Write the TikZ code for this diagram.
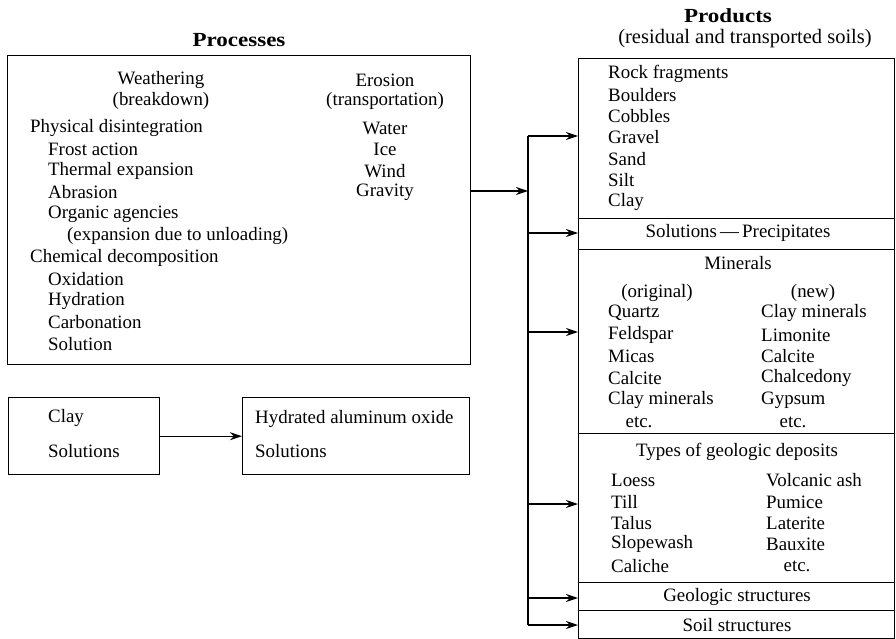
\documentclass[tikz,border=0pt]{standalone}
\usepackage{fontspec}
\setmainfont{Liberation Serif}
\usetikzlibrary{arrows.meta}
\begin{document}
\begin{tikzpicture}[x=1pt,y=-1pt,
  box/.style={draw,line width=1.4pt,inner sep=0pt,anchor=north west},
  arr/.style={line width=1.4pt,-{Stealth[length=12pt,width=8pt]}},
  bus/.style={line width=1.4pt},
  txt/.style={inner sep=0pt,anchor=west,font=\fontsize{18.9}{21}\selectfont},
  ctxt/.style={inner sep=0pt,anchor=center,font=\fontsize{18.9}{21}\selectfont},
  sub/.style={inner sep=0pt,anchor=center,font=\fontsize{20.5}{22}\selectfont},
  ttl/.style={inner sep=0pt,anchor=center,font=\fontsize{20}{22}\selectfont\bfseries}]
\useasboundingbox (0,0) rectangle (896,639);
% titles
\node[ttl] (tproc) at (239,40) {\scalebox{1.15}[1]{Processes}};
\node[ttl] (tprod) at (728,16) {\scalebox{1.15}[1]{Products}};
\node[sub] (tprod2) at (745,39) {(residual and transported soils)};
% process box
\node[box,minimum width=463pt,minimum height=309pt] (proc) at (7,55) {};
\node[ctxt] (w1) at (161,80) {Weathering};
\node[ctxt] (w2) at (161,101) {(breakdown)};
\node[ctxt] (e1) at (385,80) {Erosion};
\node[ctxt] (e2) at (385,101) {(transportation)};
\node[txt] (a1) at (30,128) {Physical disintegration};
\node[txt] (a2) at (48,149) {Frost action};
\node[txt] (a3) at (48,171) {Thermal expansion};
\node[txt] (a4) at (48,192) {Abrasion};
\node[txt] (a5) at (48,214) {Organic agencies};
\node[txt] (a6) at (67,236) {(expansion due to unloading)};
\node[txt] (a7) at (30,258) {Chemical decomposition};
\node[txt] (a8) at (48,279) {Oxidation};
\node[txt] (a9) at (48,301) {Hydration};
\node[txt] (a10) at (48,322) {Carbonation};
\node[txt] (a11) at (48,344) {Solution};
\node[ctxt] (b1) at (385,128) {Water};
\node[ctxt] (b2) at (385,149) {Ice};
\node[ctxt] (b3) at (385,171) {Wind};
\node[ctxt] (b4) at (385,192) {Gravity};
% small boxes
\node[box,minimum width=151pt,minimum height=77pt] (cl) at (8,397) {};
\node[txt] (cl1) at (48,418) {Clay};
\node[txt] (cl2) at (48,451) {Solutions};
\node[box,minimum width=227pt,minimum height=77pt] (hy) at (242,397) {};
\node[txt] (hy1) at (255,419) {Hydrated aluminum oxide};
\node[txt] (hy2) at (255,451) {Solutions};
\draw[arr] (cl.east) -- (hy.west);
% products
\node[box,minimum width=316pt,minimum height=160pt] (p1) at (578,58) {};
\node[box,minimum width=316pt,minimum height=31pt] (p2) at (578,218) {};
\node[box,minimum width=316pt,minimum height=184pt] (p3) at (578,249) {};
\node[box,minimum width=316pt,minimum height=149pt] (p4) at (578,433) {};
\node[box,minimum width=316pt,minimum height=28pt] (p5) at (578,582) {};
\node[box,minimum width=316pt,minimum height=28pt] (p6) at (578,610) {};
\node[txt] (r1) at (608,74) {Rock fragments};
\node[txt] (r2) at (608,95) {Boulders};
\node[txt] (r3) at (608,116) {Cobbles};
\node[txt] (r4) at (608,137) {Gravel};
\node[txt] (r5) at (608,159) {Sand};
\node[txt] (r6) at (608,180) {Silt};
\node[txt] (r7) at (608,202) {Clay};
\node[ctxt] (s1) at (738,233) {Solutions\,---\,Precipitates};
\node[ctxt] (m0) at (738,263) {Minerals};
\node[ctxt] (m1) at (657,293) {(original)};
\node[txt] (m2) at (608,313) {Quartz};
\node[txt] (m3) at (608,335) {Feldspar};
\node[txt] (m4) at (608,356) {Micas};
\node[txt] (m5) at (608,378) {Calcite};
\node[txt] (m6) at (608,400) {Clay minerals};
\node[ctxt] (m7) at (639,422) {etc.};
\node[ctxt] (n1) at (813,293) {(new)};
\node[txt] (n2) at (761,313) {Clay minerals};
\node[txt] (n3) at (761,335) {Limonite};
\node[txt] (n4) at (761,356) {Calcite};
\node[txt] (n5) at (761,378) {Chalcedony};
\node[txt] (n6) at (761,400) {Gypsum};
\node[ctxt] (n7) at (793,422) {etc.};
\node[ctxt] (g0) at (737,452) {Types of geologic deposits};
\node[txt] (g1) at (611,480) {Loess};
\node[txt] (g2) at (611,502) {Till};
\node[txt] (g3) at (611,523) {Talus};
\node[txt] (g4) at (611,544) {Slopewash};
\node[txt] (g5) at (611,566) {Caliche};
\node[txt] (h1) at (766,480) {Volcanic ash};
\node[txt] (h2) at (766,502) {Pumice};
\node[txt] (h3) at (766,523) {Laterite};
\node[txt] (h4) at (766,544) {Bauxite};
\node[ctxt] (h5) at (797,566) {etc.};
\node[ctxt] (gs) at (737,597) {Geologic structures};
\node[ctxt] (ss) at (737,625) {Soil structures};
% connectors
\coordinate (jmain) at (528,191);
\coordinate (j1) at (528,136);
\coordinate (j2) at (528,233);
\coordinate (j3) at (528,332);
\coordinate (j4) at (528,504);
\coordinate (j5) at (528,598);
\coordinate (j6) at (528,625);
\draw[arr] (proc.east |- jmain) -- (jmain);
\draw[bus] (j1) -- (j6);
\draw[arr] (j1) -- (j1 -| p1.west);
\draw[arr] (j2) -- (j2 -| p2.west);
\draw[arr] (j3) -- (j3 -| p3.west);
\draw[arr] (j4) -- (j4 -| p4.west);
\draw[arr] (j5) -- (j5 -| p5.west);
\draw[arr] (j6) -- (j6 -| p6.west);
\end{tikzpicture}
\end{document}
